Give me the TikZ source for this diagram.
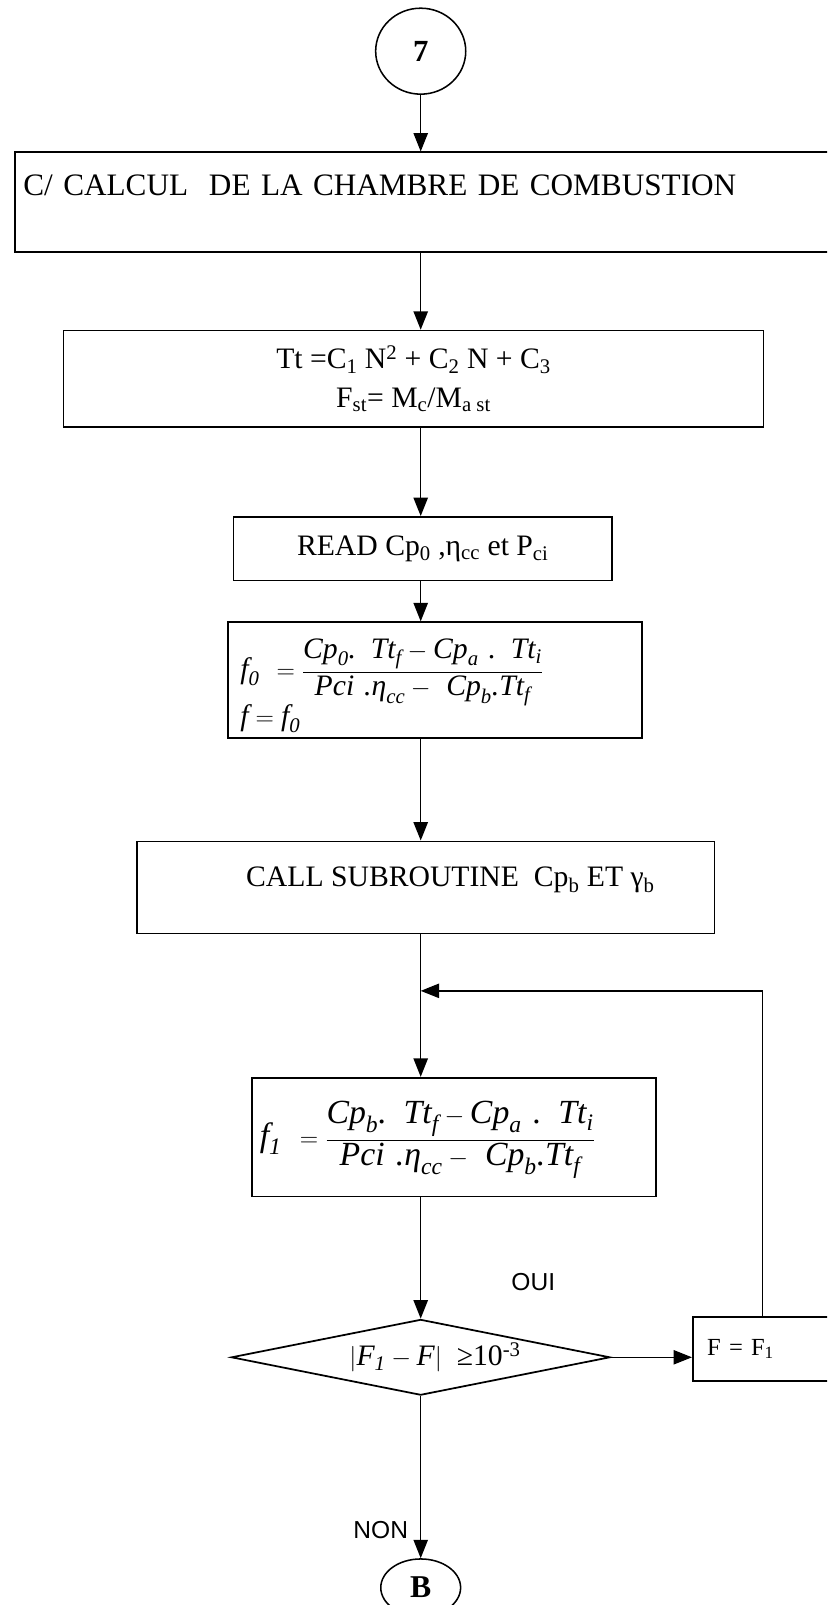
\documentclass[tikz,border=0pt]{standalone}
\usepackage{fontspec}
\usepackage{amsmath}
\setmainfont{Liberation Serif}
\newfontfamily\sansf{Liberation Sans}
\usetikzlibrary{shapes.geometric,arrows.meta}
\newcommand{\ti}[1]{\text{\itshape #1}}
\begin{document}
\begin{tikzpicture}[x=1pt,y=-1pt,
  every node/.style={font=\fontsize{29}{35}\selectfont},
  box/.style={draw, line width=1.7pt, inner sep=0pt},
  arr/.style={line width=1.5pt, -{Triangle[length=18pt,width=14pt]}},
  lbl/.style={font=\sansf\fontsize{24}{24}\selectfont}]
\useasboundingbox (0,0) rectangle (808,1568);
\fill[white] (0,0) rectangle (808,1568);
\clip (0,0) rectangle (808,1568);

\node[draw, ellipse, line width=1.5pt, minimum width=88pt, minimum height=84pt, inner sep=0pt,
      font=\fontsize{30}{30}\selectfont\bfseries] (c7) at (411,50) {7};

\node[box, anchor=north west, text width=814pt, inner xsep=8pt, align=left,
      text height=42pt, text depth=55pt, font=\fontsize{30.5}{36}\selectfont] (b1) at (14,148)
      {C/ CALCUL\ \ DE LA CHAMBRE DE COMBUSTION};

\node[box, minimum width=684pt, minimum height=94pt, align=center,
      font=\fontsize{29}{38}\selectfont] (b2) at (404,370)
      {Tt =C\textsubscript{1} N\textsuperscript{2} + C\textsubscript{2} N + C\textsubscript{3}\\
       F\textsubscript{st}= M\textsubscript{c}/M\textsubscript{a st}};

\node[box, minimum width=370pt, minimum height=62pt] (b3) at (413,536)
      {READ Cp\textsubscript{0} ,η\textsubscript{cc} et P\textsubscript{ci}};

\node[box, anchor=north west, text width=380pt, inner xsep=12pt, align=left,
      minimum height=113pt, font=\fontsize{29}{34}\selectfont] (b4) at (222,607)
      {\rule{0pt}{50pt}$\ti{f}_{\ti{0}}\ = \dfrac{\ti{Cp}_{\ti{0}}\ti{. Tt}_{\ti{f}}-\ti{Cp}_{\ti{a}}\ \ti{. Tt}_{\ti{i}}}
        {\ti{Pci\ .η}_{\ti{cc}}-\ \ti{Cp}_{\ti{b}}\ti{.Tt}_{\ti{f}}}$\\[-3pt]
       $\ti{f}=\ti{f}_{\ti{0}}$};

\node[box, minimum width=564pt, text height=44pt, text depth=46pt] (b5) at (416,867)
      {\hspace*{48pt}CALL SUBROUTINE\ \ Cp\textsubscript{b} ET γ\textsubscript{b}};

\node[box, anchor=north west, text width=379pt, inner xsep=8pt, align=left,
      minimum height=116pt, font=\fontsize{33}{38}\selectfont] (b6) at (245,1052)
      {\rule{0pt}{50pt}$\ti{f}_{\ti{1}}\ = \dfrac{\ti{Cp}_{\ti{b}}\ti{. Tt}_{\ti{f}}-\ti{Cp}_{\ti{a}}\ \ti{. Tt}_{\ti{i}}}
        {\ti{Pci\ .η}_{\ti{cc}}-\ \ti{Cp}_{\ti{b}}\ti{.Tt}_{\ti{f}}}$};

\node[draw, diamond, aspect=4.9, line width=1.7pt, minimum width=370pt, minimum height=74pt,
      inner sep=0pt] (d) at (411,1326)
      {\hspace*{28pt}$|\ti{F}_{\ti{1}}-\ti{F}|$\ \ ≥10\textsuperscript{-3}};

\node[box, anchor=north west, text width=122pt, inner xsep=14pt, align=left,
      minimum height=62pt, font=\fontsize{24}{28}\selectfont] (ff) at (676,1286)
      {F = F\textsubscript{1}};

\node[lbl] (oui) at (521,1252) {OUI};
\node[lbl] (non) at (372,1495) {NON};

\node[draw, ellipse, line width=1.5pt, minimum width=78pt, minimum height=56pt, inner sep=0pt,
      font=\fontsize{31}{31}\selectfont\bfseries] (cb) at (411,1551) {B};

\coordinate (lp) at (745,968);

\draw[arr] (c7.south) -- (c7.south |- b1.north);
\draw[arr] (c7 |- b1.south) -- (c7 |- b2.north);
\draw[arr] (c7 |- b2.south) -- (c7 |- b3.north);
\draw[arr] (c7 |- b3.south) -- (c7 |- b4.north);
\draw[arr] (c7 |- b4.south) -- (c7 |- b5.north);
\draw[arr] (c7 |- b5.south) -- (c7 |- b6.north);
\draw[arr] (c7 |- b6.south) -- (d.north);
\draw[arr] (d.east) -- (d.east -| ff.west);
\draw[arr] (lp |- ff.north) -- (lp) -- (c7 |- lp);
\draw[arr] (d.south) -- (cb.north);
\end{tikzpicture}
\end{document}
